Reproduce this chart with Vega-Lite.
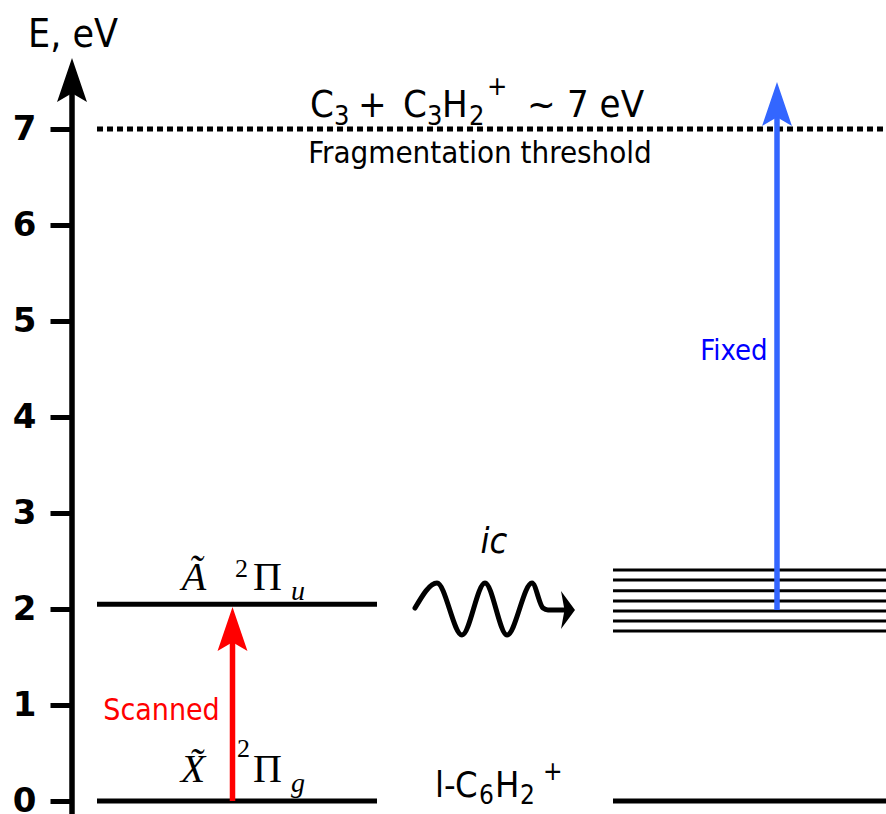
{
  "$schema": "https://vega.github.io/schema/vega-lite/v6.json",
  "width": 814,
  "height": 814,
  "autosize": {"type": "none"},
  "padding": {"left": 72, "top": 0, "right": 0, "bottom": 0},
  "background": "white",
  "config": {"view": {"stroke": null}},
  "datasets": {
    "levels": [
      {"kind": "state", "x": 25, "x2": 305, "y": 0},
      {"kind": "state", "x": 25, "x2": 305, "y": 2.05},
      {"kind": "state", "x": 541, "x2": 814, "y": 0},
      {"kind": "vib", "x": 541, "x2": 814, "y": 2.406},
      {"kind": "vib", "x": 541, "x2": 814, "y": 2.302},
      {"kind": "vib", "x": 541, "x2": 814, "y": 2.19},
      {"kind": "vib", "x": 541, "x2": 814, "y": 2.083},
      {"kind": "vib", "x": 541, "x2": 814, "y": 1.979},
      {"kind": "vib", "x": 541, "x2": 814, "y": 1.875},
      {"kind": "vib", "x": 541, "x2": 814, "y": 1.77},
      {"kind": "threshold", "x": 25, "x2": 814, "y": 7}
    ],
    "arrows": [
      {"kind": "axis", "x": 0, "y0": -0.2, "y1": 7.4, "tip": 7.74},
      {"kind": "Scanned", "x": 160.5, "y0": 0, "y1": 1.68, "tip": 2.02},
      {"kind": "Fixed", "x": 705, "y0": 1.99, "y1": 7.15, "tip": 7.49}
    ],
    "wave": [
      {"part": "curve", "x": 343, "y": 2.01},
      {"part": "curve", "x": 365, "y": 2.271},
      {"part": "curve", "x": 390, "y": 1.729},
      {"part": "curve", "x": 413, "y": 2.271},
      {"part": "curve", "x": 435, "y": 1.729},
      {"part": "curve", "x": 460, "y": 2.271},
      {"part": "curve", "x": 471, "y": 2.01},
      {"part": "curve", "x": 476, "y": 1.99},
      {"part": "curve", "x": 493, "y": 1.99},
      {"part": "head", "x": 503, "y": 1.99}
    ],
    "labels": [
      {"role": "title", "text": "E, eV", "x": -44, "y": 7.854},
      {"role": "frag", "text": "C", "x": 238, "y": 7.125},
      {"role": "frag", "text": "+", "x": 286, "y": 7.125},
      {"role": "frag", "text": "C", "x": 331, "y": 7.125},
      {"role": "frag", "text": "H", "x": 370, "y": 7.125},
      {"role": "frag", "text": "~", "x": 455, "y": 7.125},
      {"role": "frag", "text": "7 eV", "x": 495, "y": 7.125},
      {"role": "fragScript", "text": "3", "x": 262, "y": 7.042},
      {"role": "fragScript", "text": "3", "x": 355, "y": 7.042},
      {"role": "fragScript", "text": "2", "x": 397, "y": 7.042},
      {"role": "fragScript", "text": "+", "x": 415, "y": 7.354},
      {"role": "thr", "text": "Fragmentation threshold", "x": 408, "y": 6.646},
      {"role": "mol", "text": "l-", "x": 363, "y": 0.042},
      {"role": "mol", "text": "C", "x": 383, "y": 0.042},
      {"role": "mol", "text": "H", "x": 423, "y": 0.042},
      {"role": "molScript", "text": "6", "x": 407, "y": -0.031},
      {"role": "molScript", "text": "2", "x": 448, "y": -0.031},
      {"role": "molScript", "text": "+", "x": 471, "y": 0.219},
      {"role": "scan", "text": "Scanned", "x": 89.5, "y": 0.844},
      {"role": "fixed", "text": "Fixed", "x": 662, "y": 4.594},
      {"role": "ic", "text": "ic", "x": 422, "y": 2.583},
      {"role": "state", "text": "Ã", "x": 122, "y": 2.198},
      {"role": "state", "text": "X̃", "x": 121, "y": 0.198},
      {"role": "mult", "text": "2", "x": 163, "y": 2.333},
      {"role": "mult", "text": "2", "x": 165, "y": 0.458},
      {"role": "term", "text": "Π", "x": 181, "y": 2.198},
      {"role": "term", "text": "Π", "x": 181, "y": 0.198},
      {"role": "sym", "text": "u", "x": 219, "y": 2.094},
      {"role": "sym", "text": "g", "x": 219, "y": 0.094}
    ]
  },
  "layer": [
    {
      "data": {"name": "levels"},
      "transform": [{"filter": "datum.kind === 'threshold'"}],
      "mark": {"type": "rule", "strokeWidth": 5, "strokeDash": [6, 4], "color": "black"},
      "encoding": {
        "x": {"field": "x", "type": "quantitative", "scale": {"domain": [0, 814], "nice": false, "zero": false}, "axis": null},
        "x2": {"field": "x2"},
        "y": {
          "field": "y", "type": "quantitative",
          "scale": {"domain": [-0.135, 8.344], "nice": false, "zero": false},
          "axis": {
            "values": [0, 1, 2, 3, 4, 5, 6, 7],
            "format": "d",
            "title": null,
            "domain": false,
            "grid": false,
            "ticks": true,
            "tickSize": 22,
            "tickWidth": 5,
            "tickColor": "black",
            "labelFont": "DejaVu Sans",
            "labelFontWeight": "bold",
            "labelFontSize": 34,
            "labelColor": "black",
            "labelPadding": 14,
            "labelFlush": false,
            "labelOverlap": false
          }
        }
      }
    },
    {
      "data": {"name": "levels"},
      "transform": [{"filter": "datum.kind === 'state'"}],
      "mark": {"type": "rule", "strokeWidth": 5, "color": "black"},
      "encoding": {
        "x": {"field": "x", "type": "quantitative"},
        "x2": {"field": "x2"},
        "y": {"field": "y", "type": "quantitative"}
      }
    },
    {
      "data": {"name": "levels"},
      "transform": [{"filter": "datum.kind === 'vib'"}],
      "mark": {"type": "rule", "strokeWidth": 3, "color": "black"},
      "encoding": {
        "x": {"field": "x", "type": "quantitative"},
        "x2": {"field": "x2"},
        "y": {"field": "y", "type": "quantitative"}
      }
    },
    {
      "data": {"name": "arrows"},
      "mark": {"type": "rule", "strokeWidth": 5.5},
      "encoding": {
        "x": {"field": "x", "type": "quantitative"},
        "y": {"field": "y0", "type": "quantitative"},
        "y2": {"field": "y1"},
        "color": {"field": "kind", "type": "nominal", "scale": {"domain": ["axis", "Scanned", "Fixed"], "range": ["#000000", "#ff0000", "#3366ff"]}, "legend": null}
      }
    },
    {
      "data": {"name": "arrows"},
      "mark": {"type": "point", "shape": "M0,0 L0.68,2 L0,1.6 L-0.68,2 Z", "filled": true, "opacity": 1, "size": 1936, "strokeWidth": 0},
      "encoding": {
        "x": {"field": "x", "type": "quantitative"},
        "y": {"field": "tip", "type": "quantitative"},
        "color": {"field": "kind", "type": "nominal", "legend": null}
      }
    },
    {
      "data": {"name": "wave"},
      "transform": [{"filter": "datum.part === 'curve'"}],
      "mark": {"type": "line", "interpolate": "monotone", "strokeWidth": 5, "color": "black", "strokeCap": "round"},
      "encoding": {
        "x": {"field": "x", "type": "quantitative"},
        "y": {"field": "y", "type": "quantitative"}
      }
    },
    {
      "data": {"name": "wave"},
      "transform": [{"filter": "datum.part === 'head'"}],
      "mark": {"type": "point", "shape": "M0,0 L-1,-1.35 L-0.75,0 L-1,1.35 Z", "filled": true, "opacity": 1, "size": 784, "strokeWidth": 0, "color": "black"},
      "encoding": {
        "x": {"field": "x", "type": "quantitative"},
        "y": {"field": "y", "type": "quantitative"}
      }
    },
    {
      "data": {"name": "labels"},
      "transform": [{"filter": "datum.role === 'title'"}],
      "mark": {"type": "text", "align": "left", "baseline": "alphabetic", "font": "DejaVu Sans Condensed", "fontSize": 39, "color": "black"},
      "encoding": {"x": {"field": "x", "type": "quantitative"}, "y": {"field": "y", "type": "quantitative"}, "text": {"field": "text"}}
    },
    {
      "data": {"name": "labels"},
      "transform": [{"filter": "datum.role === 'frag'"}],
      "mark": {"type": "text", "align": "left", "baseline": "alphabetic", "font": "DejaVu Sans Condensed", "fontSize": 38, "color": "black"},
      "encoding": {"x": {"field": "x", "type": "quantitative"}, "y": {"field": "y", "type": "quantitative"}, "text": {"field": "text"}}
    },
    {
      "data": {"name": "labels"},
      "transform": [{"filter": "datum.role === 'fragScript'"}],
      "mark": {"type": "text", "align": "left", "baseline": "alphabetic", "font": "DejaVu Sans Condensed", "fontSize": 27, "color": "black"},
      "encoding": {"x": {"field": "x", "type": "quantitative"}, "y": {"field": "y", "type": "quantitative"}, "text": {"field": "text"}}
    },
    {
      "data": {"name": "labels"},
      "transform": [{"filter": "datum.role === 'thr'"}],
      "mark": {"type": "text", "align": "center", "baseline": "alphabetic", "font": "DejaVu Sans Condensed", "fontSize": 31, "color": "black"},
      "encoding": {"x": {"field": "x", "type": "quantitative"}, "y": {"field": "y", "type": "quantitative"}, "text": {"field": "text"}}
    },
    {
      "data": {"name": "labels"},
      "transform": [{"filter": "datum.role === 'mol'"}],
      "mark": {"type": "text", "align": "left", "baseline": "alphabetic", "font": "DejaVu Sans Condensed", "fontSize": 36, "color": "black"},
      "encoding": {"x": {"field": "x", "type": "quantitative"}, "y": {"field": "y", "type": "quantitative"}, "text": {"field": "text"}}
    },
    {
      "data": {"name": "labels"},
      "transform": [{"filter": "datum.role === 'molScript'"}],
      "mark": {"type": "text", "align": "left", "baseline": "alphabetic", "font": "DejaVu Sans Condensed", "fontSize": 26, "color": "black"},
      "encoding": {"x": {"field": "x", "type": "quantitative"}, "y": {"field": "y", "type": "quantitative"}, "text": {"field": "text"}}
    },
    {
      "data": {"name": "labels"},
      "transform": [{"filter": "datum.role === 'scan'"}],
      "mark": {"type": "text", "align": "center", "baseline": "alphabetic", "font": "DejaVu Sans Condensed", "fontSize": 30, "color": "#ff0000"},
      "encoding": {"x": {"field": "x", "type": "quantitative"}, "y": {"field": "y", "type": "quantitative"}, "text": {"field": "text"}}
    },
    {
      "data": {"name": "labels"},
      "transform": [{"filter": "datum.role === 'fixed'"}],
      "mark": {"type": "text", "align": "center", "baseline": "alphabetic", "font": "DejaVu Sans Condensed", "fontSize": 29, "color": "#0000ff"},
      "encoding": {"x": {"field": "x", "type": "quantitative"}, "y": {"field": "y", "type": "quantitative"}, "text": {"field": "text"}}
    },
    {
      "data": {"name": "labels"},
      "transform": [{"filter": "datum.role === 'ic'"}],
      "mark": {"type": "text", "align": "center", "baseline": "alphabetic", "font": "DejaVu Sans Condensed", "fontStyle": "italic", "fontSize": 36, "color": "black"},
      "encoding": {"x": {"field": "x", "type": "quantitative"}, "y": {"field": "y", "type": "quantitative"}, "text": {"field": "text"}}
    },
    {
      "data": {"name": "labels"},
      "transform": [{"filter": "datum.role === 'state'"}],
      "mark": {"type": "text", "align": "center", "baseline": "alphabetic", "font": "Liberation Serif", "fontStyle": "italic", "fontSize": 40, "color": "black"},
      "encoding": {"x": {"field": "x", "type": "quantitative"}, "y": {"field": "y", "type": "quantitative"}, "text": {"field": "text"}}
    },
    {
      "data": {"name": "labels"},
      "transform": [{"filter": "datum.role === 'mult'"}],
      "mark": {"type": "text", "align": "left", "baseline": "alphabetic", "font": "Liberation Serif", "fontSize": 26, "color": "black"},
      "encoding": {"x": {"field": "x", "type": "quantitative"}, "y": {"field": "y", "type": "quantitative"}, "text": {"field": "text"}}
    },
    {
      "data": {"name": "labels"},
      "transform": [{"filter": "datum.role === 'term'"}],
      "mark": {"type": "text", "align": "left", "baseline": "alphabetic", "font": "Liberation Serif", "fontSize": 40, "color": "black"},
      "encoding": {"x": {"field": "x", "type": "quantitative"}, "y": {"field": "y", "type": "quantitative"}, "text": {"field": "text"}}
    },
    {
      "data": {"name": "labels"},
      "transform": [{"filter": "datum.role === 'sym'"}],
      "mark": {"type": "text", "align": "left", "baseline": "alphabetic", "font": "Liberation Serif", "fontStyle": "italic", "fontSize": 28, "color": "black"},
      "encoding": {"x": {"field": "x", "type": "quantitative"}, "y": {"field": "y", "type": "quantitative"}, "text": {"field": "text"}}
    }
  ]
}
